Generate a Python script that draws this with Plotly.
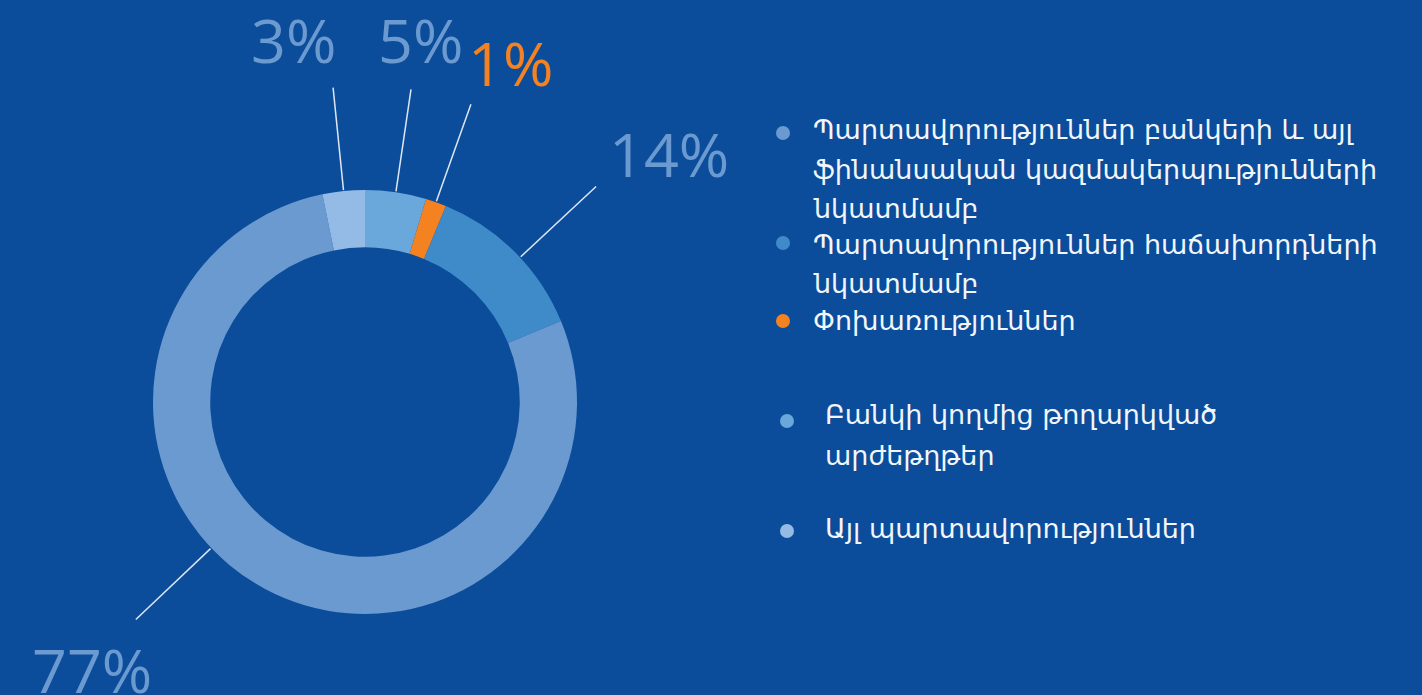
import math
import plotly.graph_objects as go

# ---------------- data ----------------
categories = [
    "Բանկի կողմից թողարկված արժեթղթեր",
    "Փոխառություններ",
    "Պարտավորություններ հաճախորդների նկատմամբ",
    "Պարտավորություններ բանկերի և այլ ֆինանսական կազմակերպությունների նկատմամբ",
    "Այլ պարտավորություններ",
]
# slice sizes as drawn in the picture (share of the ring)
values = [4.65, 1.58, 12.54, 78.01, 3.22]
# percentage labels printed on the chart
value_labels = ["5%", "1%", "14%", "77%", "3%"]

legend_order = [3, 2, 1, 0, 4]  # indices into categories
legend_lines = [
    ["Պարտավորություններ բանկերի և այլ", "ֆինանսական կազմակերպությունների", "նկատմամբ"],
    ["Պարտավորություններ հաճախորդների", "նկատմամբ"],
    ["Փոխառություններ"],
    ["Բանկի կողմից թողարկված", "արժեթղթեր"],
    ["Այլ պարտավորություններ"],
]

# ---------------- style / layout ----------------
W, H = 1422, 695
BG = "#0b4d9a"
slice_colors = ["#6aa8dc", "#f58220", "#3f8bc9", "#6b9ad0", "#94bbe6"]
label_colors = ["#6b9ad0", "#f58220", "#6b9ad0", "#6b9ad0", "#6b9ad0"]
CX, CY, RO = 365, 402, 212
HOLE = 0.73
LINE_R0, LINE_R1 = RO + 1, 316
angle_shift = [0, 0, 2, 18.5, 0]
label_offset = [(10, -50), (40, -42), (73, -33), (-44, 50), (-40, -48)]
LABEL_SIZE = 61

legend_text_x = [811, 811, 811, 823, 823]
legend_first_y = [130, 244, 321, 414, 528]
legend_line_gap = [39, 39, 39, 41, 39]
legend_bullet = [(783, 133), (783, 243), (783, 321), (787, 421), (787, 531)]
BULLET_R = 7
LEG_SIZE = 27


def px(x):
    return x / W


def py(y):
    return 1 - y / H


fig = go.Figure()
fig.add_trace(go.Pie(
    labels=categories,
    values=values,
    sort=False,
    direction="clockwise",
    rotation=0,
    hole=HOLE,
    marker=dict(colors=slice_colors, line=dict(width=0)),
    textinfo="none",
    hoverinfo="label",
    showlegend=False,
    domain=dict(x=[px(CX - RO), px(CX + RO)], y=[py(CY + RO), py(CY - RO)]),
))

shapes = []
annotations = []
total = sum(values)
cum = 0
for i, v in enumerate(values):
    mid = 360 * (cum + v / 2) / total + angle_shift[i]
    cum += v
    t = math.radians(mid)
    x0, y0 = CX + LINE_R0 * math.sin(t), CY - LINE_R0 * math.cos(t)
    x1, y1 = CX + LINE_R1 * math.sin(t), CY - LINE_R1 * math.cos(t)
    shapes.append(dict(type="line", xref="paper", yref="paper",
                       x0=px(x0), y0=py(y0), x1=px(x1), y1=py(y1),
                       line=dict(color="#dde7f4", width=1.5)))
    dx, dy = label_offset[i]
    annotations.append(dict(
        x=px(x1 + dx), y=py(y1 + dy), xref="paper", yref="paper",
        text=value_labels[i], showarrow=False, xanchor="center", yanchor="middle",
        font=dict(family="Open Sans, Lato, sans-serif", size=LABEL_SIZE,
                  color=label_colors[i], weight=400),
    ))

for k, idx in enumerate(legend_order):
    bx, by = legend_bullet[k]
    shapes.append(dict(type="circle", xref="paper", yref="paper",
                       x0=px(bx - BULLET_R), x1=px(bx + BULLET_R),
                       y0=py(by + BULLET_R), y1=py(by - BULLET_R),
                       fillcolor=slice_colors[idx], line=dict(width=0)))
    for j, line in enumerate(legend_lines[k]):
        annotations.append(dict(
            x=px(legend_text_x[k]), y=py(legend_first_y[k] + j * legend_line_gap[k]),
            xref="paper", yref="paper", text=line, showarrow=False,
            xanchor="left", yanchor="middle",
            font=dict(family="DejaVu Sans, sans-serif", size=LEG_SIZE, color="#f2f6fb"),
        ))

fig.update_layout(
    width=W, height=H,
    margin=dict(l=0, r=0, t=0, b=0),
    paper_bgcolor=BG, plot_bgcolor=BG,
    shapes=shapes, annotations=annotations,
    showlegend=False,
)
fig.write_html(
    "out.html",
    config={"displayModeBar": False},
    post_script="document.body.style.margin='0';document.body.style.background='%s';" % BG,
)
